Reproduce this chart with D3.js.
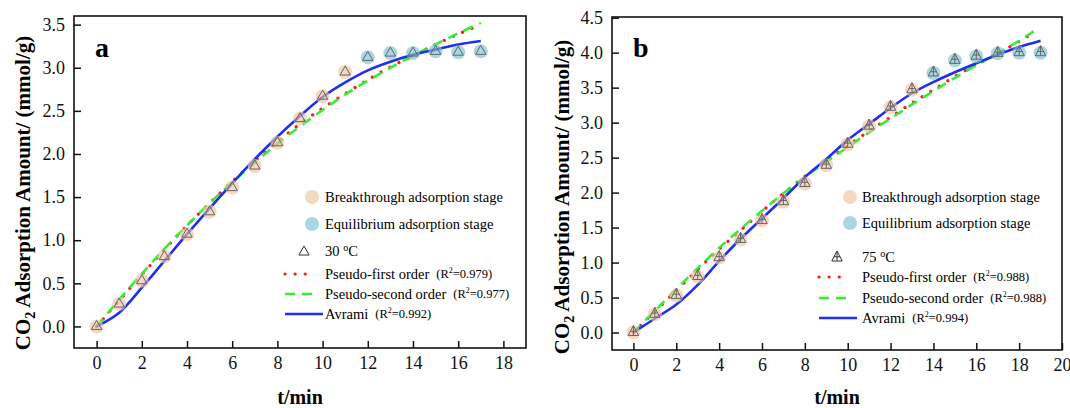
<!DOCTYPE html>
<html>
<head>
<meta charset="utf-8">
<script src="https://cdn.jsdelivr.net/npm/d3@7"></script>
<style>
body { margin: 0; background: #fff; }
svg { display: block; }
svg text { font-family: "Liberation Serif", "Times New Roman", serif; }
</style>
</head>
<body>
<svg id="chart" width="1070" height="408"></svg>
<script>
// panel a, 30 °C: measured uptake (mmol/g)
const timeA = [0, 1, 2, 3, 4, 5, 6, 7, 8, 9, 10, 11, 12, 13, 14, 15, 16, 17];
const uptakeA = [0, 0.26, 0.53, 0.81, 1.07, 1.33, 1.61, 1.86, 2.13, 2.41, 2.67, 2.95, 3.12, 3.17, 3.17, 3.19, 3.18, 3.19];
const eqStartA = 12; // first equilibrium-stage point
// panel a fitted curves
const fitTimeA = [0, 1, 2, 3, 4, 5, 6, 7, 8, 9, 10, 11, 12, 13, 14, 15, 16, 17];
const pfoA = [0, 0.30, 0.60, 0.89, 1.17, 1.43, 1.68, 1.92, 2.14, 2.35, 2.53, 2.70, 2.86, 3.01, 3.14, 3.27, 3.39, 3.50];
const psoA = [0, 0.31, 0.61, 0.90, 1.17, 1.43, 1.67, 1.90, 2.12, 2.32, 2.51, 2.69, 2.85, 3.00, 3.14, 3.27, 3.40, 3.52];
const avramiA = [0, 0.16, 0.45, 0.76, 1.07, 1.37, 1.66, 1.94, 2.20, 2.44, 2.66, 2.83, 2.97, 3.07, 3.15, 3.21, 3.27, 3.31];

// panel b, 75 °C
const timeB = [0, 1, 2, 3, 4, 5, 6, 7, 8, 9, 10, 11, 12, 13, 14, 15, 16, 17, 18, 19];
const uptakeB = [0, 0.26, 0.53, 0.80, 1.07, 1.33, 1.60, 1.87, 2.13, 2.39, 2.69, 2.95, 3.22, 3.47, 3.71, 3.89, 3.95, 3.99, 4.00, 4.00];
const eqStartB = 14;
const fitTimeB = [0, 1, 2, 3, 4, 5, 6, 7, 8, 9, 10, 11, 12, 13, 14, 15, 16, 17, 18, 18.7];
const pfoB = [0, 0.30, 0.60, 0.90, 1.19, 1.46, 1.73, 1.99, 2.23, 2.45, 2.67, 2.88, 3.08, 3.28, 3.47, 3.66, 3.83, 3.99, 4.16, 4.29];
const psoB = [0, 0.31, 0.62, 0.92, 1.21, 1.48, 1.74, 1.99, 2.22, 2.44, 2.65, 2.86, 3.06, 3.26, 3.45, 3.64, 3.82, 3.99, 4.17, 4.31];
const avramiTimeB = [0, 1, 2, 3, 4, 5, 6, 7, 8, 9, 10, 11, 12, 13, 14, 15, 16, 17, 18, 19];
const avramiB = [0, 0.20, 0.40, 0.68, 1.02, 1.34, 1.63, 1.92, 2.22, 2.48, 2.75, 2.98, 3.21, 3.42, 3.58, 3.72, 3.85, 3.97, 4.08, 4.17];

// tick labels
const xTicksA = [0, 2, 4, 6, 8, 10, 12, 14, 16, 18];
const yTicksA = [0, 0.5, 1, 1.5, 2, 2.5, 3, 3.5];
const xTicksB = [0, 2, 4, 6, 8, 10, 12, 14, 16, 18, 20];
const yTicksB = [0, 0.5, 1, 1.5, 2, 2.5, 3, 3.5, 4, 4.5];

// legend texts
const stageNames = ["Breakthrough adsorption stage", "Equilibrium adsorption stage"];
const modelNames = ["Pseudo-first order", "Pseudo-second order", "Avrami"];
const r2A = ["0.979", "0.977", "0.992"];
const r2B = ["0.988", "0.988", "0.994"];

const FONT = '"Liberation Serif", "Times New Roman", serif';
const svg = d3.select("#chart");

const stageFill = ["#efc3a0", "#7cc0d2"];
const modelStyle = [
    { color: "#ff1a1a", width: 3.2, dash: "0.1,10", cap: "round" },
    { color: "#33ee33", width: 2.6, dash: "10,7", cap: "butt" },
    { color: "#1f2ef0", width: 2.6, dash: null, cap: "butt" }
];

const triPath = "M0,-6L5.2,3L-5.2,3Z";
const triCrossPath = "M0,-7L5.2,3L-5.2,3Z M0,-7V3 M-3.2,-1.2H3.2";

function drawPanel(cfg) {
    const g = svg.append("g");
    const x = d3.scaleLinear().domain(cfg.xDomain).range([cfg.left, cfg.right]);
    const y = d3.scaleLinear().domain(cfg.yDomain).range([cfg.bottom, cfg.top]);

    // axes, ticks point inward
    const xAxis = g.append("g")
        .attr("transform", "translate(0," + cfg.bottom + ")")
        .call(d3.axisBottom(x).tickValues(cfg.xTicks).tickSizeInner(-7).tickSizeOuter(0).tickPadding(8));
    const yAxis = g.append("g")
        .attr("transform", "translate(" + cfg.left + ",0)")
        .call(d3.axisLeft(y).tickValues(cfg.yTicks).tickFormat(d3.format(".1f")).tickSizeInner(-7).tickSizeOuter(0).tickPadding(9));
    [xAxis, yAxis].forEach(function(a) {
        a.select(".domain").remove();
        a.attr("font-size", 18).attr("font-family", FONT).attr("color", "#111");
        a.selectAll("line").attr("stroke-width", 1.5);
    });

    // fitted curves
    const line = d3.line()
        .x(function(d) { return x(d[0]); })
        .y(function(d) { return y(d[1]); })
        .curve(d3.curveCatmullRom);
    cfg.fits.forEach(function(f, i) {
        const st = modelStyle[i];
        g.append("path")
            .datum(d3.zip(f.t, f.v))
            .attr("d", line)
            .attr("fill", "none")
            .attr("stroke", st.color)
            .attr("stroke-width", st.width)
            .attr("stroke-linecap", st.cap)
            .attr("stroke-dasharray", st.dash);
    });

    // measured points: stage circles then markers
    const pts = d3.zip(cfg.time, cfg.uptake);
    g.selectAll("circle.pt")
        .data(pts)
        .enter().append("circle")
        .attr("class", "pt")
        .attr("cx", function(d) { return x(d[0]); })
        .attr("cy", function(d) { return y(d[1]); })
        .attr("r", 7)
        .attr("fill", function(d, i) { return stageFill[i < cfg.eqStart ? 0 : 1]; })
        .attr("fill-opacity", 0.65);
    g.selectAll("path.mk")
        .data(pts)
        .enter().append("path")
        .attr("class", "mk")
        .attr("transform", function(d) { return "translate(" + x(d[0]) + "," + y(d[1]) + ")"; })
        .attr("d", cfg.marker)
        .attr("fill", "none")
        .attr("stroke", "#666")
        .attr("stroke-width", 1);

    // frame
    g.append("rect")
        .attr("x", cfg.left).attr("y", cfg.top)
        .attr("width", cfg.right - cfg.left).attr("height", cfg.bottom - cfg.top)
        .attr("fill", "none").attr("stroke", "#111").attr("stroke-width", 1.6);

    // panel letter
    g.append("text")
        .attr("x", cfg.left + 21).attr("y", 57)
        .attr("font-size", 28).attr("font-weight", "bold")
        .text(cfg.letter);

    // axis titles
    const yt = g.append("text")
        .attr("transform", "translate(" + cfg.titleX + "," + cfg.titleY + ") rotate(-90)")
        .attr("text-anchor", "middle")
        .attr("font-size", 21).attr("font-weight", "bold");
    yt.append("tspan").text("CO");
    yt.append("tspan").attr("font-size", 14).attr("dy", 5).text("2");
    yt.append("tspan").attr("dy", -5).text(" Adsorption Amount/ (mmol/g)");

    g.append("text")
        .attr("x", (cfg.left + cfg.right) / 2).attr("y", 404)
        .attr("text-anchor", "middle")
        .attr("font-size", 20).attr("font-weight", "bold")
        .text("t/min");

    // legend
    const L = cfg.legend;
    stageNames.forEach(function(name, i) {
        g.append("circle")
            .attr("cx", L.circleX).attr("cy", L.rows[i])
            .attr("r", 7)
            .attr("fill", stageFill[i]).attr("fill-opacity", 0.65);
        g.append("text")
            .attr("x", L.textX).attr("y", L.rows[i]).attr("dy", "0.35em")
            .attr("font-size", 14.5)
            .text(name);
    });
    g.append("path")
        .attr("transform", "translate(" + L.markerX + "," + (L.rows[2] + 1) + ")")
        .attr("d", cfg.marker)
        .attr("fill", "none").attr("stroke", "#333").attr("stroke-width", 1);
    const tl = g.append("text")
        .attr("x", L.textX).attr("y", L.rows[2]).attr("dy", "0.35em")
        .attr("font-size", 14.5);
    tl.append("tspan").text(cfg.tempLabel + " ");
    tl.append("tspan").attr("font-size", 10).attr("dy", -5).text("o");
    tl.append("tspan").attr("dy", 5).text("C");

    modelNames.forEach(function(name, i) {
        const st = modelStyle[i];
        const ry = L.rows[3 + i];
        const x1 = i === 2 ? L.lineX1 + 38 : L.lineX1 + 28;
        g.append("line")
            .attr("x1", L.lineX1).attr("x2", x1)
            .attr("y1", ry).attr("y2", ry)
            .attr("stroke", st.color)
            .attr("stroke-width", st.width)
            .attr("stroke-linecap", st.cap)
            .attr("stroke-dasharray", st.dash);
        const t = g.append("text")
            .attr("x", L.textX).attr("y", ry).attr("dy", "0.35em")
            .attr("font-size", 14.5)
            .text(name);
        const w = t.node().getComputedTextLength();
        const r = g.append("text")
            .attr("x", L.textX + w + 7).attr("y", ry).attr("dy", "0.35em")
            .attr("font-size", 12.5);
        r.append("tspan").text("(R");
        r.append("tspan").attr("font-size", 8).attr("dy", -5).text("2");
        r.append("tspan").attr("dy", 5).text("=" + cfg.r2[i] + ")");
    });
}

drawPanel({
    left: 74, right: 526, top: 16, bottom: 348,
    xDomain: [-1, 19], yDomain: [-0.25, 3.6],
    xTicks: xTicksA, yTicks: yTicksA,
    time: timeA, uptake: uptakeA, eqStart: eqStartA,
    fits: [
        { t: fitTimeA, v: pfoA },
        { t: fitTimeA, v: psoA },
        { t: fitTimeA, v: avramiA }
    ],
    marker: triPath,
    letter: "a",
    titleX: 30, titleY: 193,
    tempLabel: "30",
    r2: r2A,
    legend: { circleX: 312, markerX: 304, lineX1: 285, textX: 325, rows: [197, 224, 251, 274, 294, 314] }
});

drawPanel({
    left: 612, right: 1062, top: 17, bottom: 350,
    xDomain: [-1, 20], yDomain: [-0.25, 4.51],
    xTicks: xTicksB, yTicks: yTicksB,
    time: timeB, uptake: uptakeB, eqStart: eqStartB,
    fits: [
        { t: fitTimeB, v: pfoB },
        { t: fitTimeB, v: psoB },
        { t: avramiTimeB, v: avramiB }
    ],
    marker: triCrossPath,
    letter: "b",
    titleX: 569, titleY: 197,
    tempLabel: "75",
    r2: r2B,
    legend: { circleX: 850, markerX: 837, lineX1: 819, textX: 862, rows: [197, 223, 257, 277, 298, 318] }
});
</script>
</body>
</html>
